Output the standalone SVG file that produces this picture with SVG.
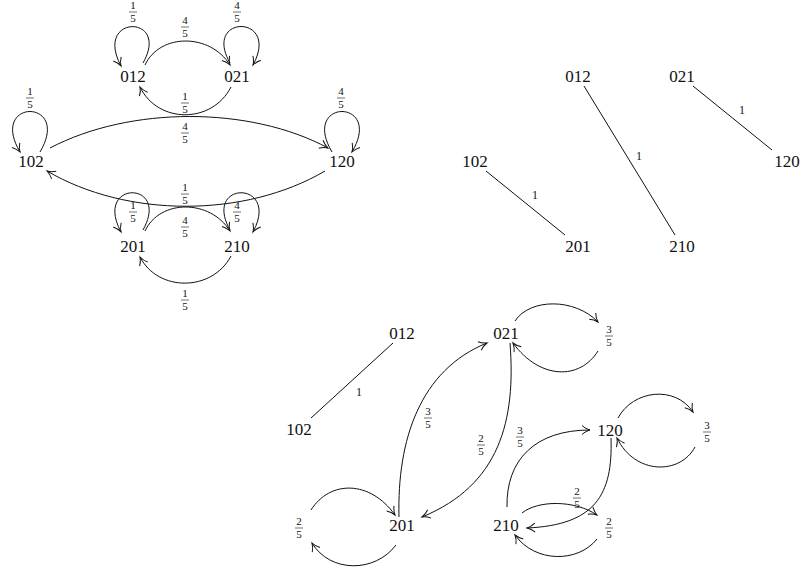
<svg xmlns="http://www.w3.org/2000/svg" width="800" height="569" viewBox="0 0 800 569">
<style>
.n{font-family:"Liberation Serif","DejaVu Serif",serif;font-size:17px;fill:#111;text-anchor:middle}
.f text{font-family:"Liberation Serif","DejaVu Serif",serif;font-size:11px;fill:#111;text-anchor:middle}
.f line{stroke:#111;stroke-width:0.6}
.l{font-family:"Liberation Serif","DejaVu Serif",serif;font-size:12px;fill:#111;text-anchor:middle}
.e{fill:none;stroke:#111;stroke-width:1}
.a{marker-end:url(#arr)}
</style>
<defs>
<marker id="arr" markerUnits="userSpaceOnUse" viewBox="-9 -6 11 12" refX="0" refY="0" markerWidth="11" markerHeight="12" orient="auto">
<path d="M-8,-4.5 C-5.5,-2.2 -2.5,-0.7 0,0 C-2.5,0.7 -5.5,2.2 -8,4.5" fill="none" stroke="#111" stroke-width="1"/>
</marker>
</defs>

<!-- Graph 1 nodes -->
<g id="g1-012"><text class="n" x="133" y="82">012</text></g>
<g id="g1-021"><text class="n" x="237" y="82">021</text></g>
<g id="g1-102"><text class="n" x="31" y="167">102</text></g>
<g id="g1-120"><text class="n" x="342" y="167">120</text></g>
<g id="g1-201"><text class="n" x="133" y="252">201</text></g>
<g id="g1-210"><text class="n" x="237" y="252">210</text></g>

<!-- Graph 2 nodes -->
<g id="g2-012"><text class="n" x="578" y="82">012</text></g>
<g id="g2-021"><text class="n" x="682" y="82">021</text></g>
<g id="g2-102"><text class="n" x="475" y="167">102</text></g>
<g id="g2-120"><text class="n" x="787" y="167">120</text></g>
<g id="g2-201"><text class="n" x="578" y="252">201</text></g>
<g id="g2-210"><text class="n" x="682" y="252">210</text></g>

<!-- Graph 3 nodes -->
<g id="g3-012"><text class="n" x="402" y="339">012</text></g>
<g id="g3-021"><text class="n" x="506" y="339">021</text></g>
<g id="g3-102"><text class="n" x="299" y="435">102</text></g>
<g id="g3-120"><text class="n" x="610" y="436">120</text></g>
<g id="g3-201"><text class="n" x="402" y="531">201</text></g>
<g id="g3-210"><text class="n" x="506" y="531">210</text></g>
<g id="g3-35a" class="f" transform="translate(609,336)"><text y="-2.6">3</text><line x1="-4" x2="4"/><text y="10.2">5</text></g>
<g id="g3-35b" class="f" transform="translate(707,432)"><text y="-2.6">3</text><line x1="-4" x2="4"/><text y="10.2">5</text></g>
<g id="g3-25a" class="f" transform="translate(299,528)"><text y="-2.6">2</text><line x1="-4" x2="4"/><text y="10.2">5</text></g>
<g id="g3-25b" class="f" transform="translate(609,528)"><text y="-2.6">2</text><line x1="-4" x2="4"/><text y="10.2">5</text></g>

<g id="connectors">
<!-- graph 1 -->
<path class="e a" d="M143,63 C171,14 93,14 121,66"/>
<path class="e a" d="M230,63 C202,14 281,14 253,65"/>
<path class="e a" d="M145,65 C160,33 210,33 230,65"/>
<path class="e a" d="M231,87 C212,124 158,124 140,87"/>
<path class="e a" d="M40,152 C72,98 -12,98 20,152"/>
<path class="e a" d="M332,152 C300,98 384,98 352,152"/>
<path class="e a" d="M50,148 C130,106 250,106 328,148"/>
<path class="e a" d="M325,171 C245,218 127,218 47,171"/>
<path class="e a" d="M143,230 C171,180 93,180 121,232"/>
<path class="e a" d="M230,230 C202,180 281,180 253,232"/>
<path class="e a" d="M145,231 C160,199 210,199 230,231"/>
<path class="e a" d="M231,256 C212,292 158,292 140,257"/>
<!-- graph 2 -->
<path class="e" d="M584,86 L675,235"/>
<path class="e" d="M693,86 L772,150"/>
<path class="e" d="M486,171 L565,235"/>
<!-- graph 3 -->
<path class="e" d="M311,418 L393,343"/>
<path class="e a" d="M399,517 C397,440 420,370 487,343"/>
<path class="e a" d="M510,343 C516,420 500,485 422,517"/>
<path class="e a" d="M311,510 C330,480 370,480 395,515"/>
<path class="e a" d="M396,545 C375,573 330,573 312,543"/>
<path class="e a" d="M515,321 C530,298 575,298 598,322"/>
<path class="e a" d="M598,351 C580,380 540,380 513,343"/>
<path class="e a" d="M507,507 C506,460 535,430 590,430"/>
<path class="e a" d="M611,438 C613,495 595,525 527,528"/>
<path class="e a" d="M522,513 C538,500 575,500 597,515"/>
<path class="e a" d="M597,539 C578,563 535,563 515,535"/>
<path class="e a" d="M618,418 C633,390 675,385 693,412"/>
<path class="e a" d="M695,447 C680,475 635,475 617,438"/>
</g>

<g id="labels">
<g class="f" transform="translate(133,12)"><text y="-2.6">1</text><line x1="-4" x2="4"/><text y="10.2">5</text></g>
<g class="f" transform="translate(237,12)"><text y="-2.6">4</text><line x1="-4" x2="4"/><text y="10.2">5</text></g>
<g class="f" transform="translate(185,27)"><text y="-2.6">4</text><line x1="-4" x2="4"/><text y="10.2">5</text></g>
<g class="f" transform="translate(185,103)"><text y="-2.6">1</text><line x1="-4" x2="4"/><text y="10.2">5</text></g>
<g class="f" transform="translate(30,98)"><text y="-2.6">1</text><line x1="-4" x2="4"/><text y="10.2">5</text></g>
<g class="f" transform="translate(341,98)"><text y="-2.6">4</text><line x1="-4" x2="4"/><text y="10.2">5</text></g>
<g class="f" transform="translate(185,133)"><text y="-2.6">4</text><line x1="-4" x2="4"/><text y="10.2">5</text></g>
<g class="f" transform="translate(185,194)"><text y="-2.6">1</text><line x1="-4" x2="4"/><text y="10.2">5</text></g>
<g class="f" transform="translate(133,212)"><text y="-2.6">1</text><line x1="-4" x2="4"/><text y="10.2">5</text></g>
<g class="f" transform="translate(237,212)"><text y="-2.6">4</text><line x1="-4" x2="4"/><text y="10.2">5</text></g>
<g class="f" transform="translate(185,227)"><text y="-2.6">4</text><line x1="-4" x2="4"/><text y="10.2">5</text></g>
<g class="f" transform="translate(185,300)"><text y="-2.6">1</text><line x1="-4" x2="4"/><text y="10.2">5</text></g>
<text class="l" x="639" y="160">1</text>
<text class="l" x="742" y="114">1</text>
<text class="l" x="535" y="199">1</text>
<text class="l" x="359" y="396">1</text>
<g class="f" transform="translate(428,418)"><text y="-2.6">3</text><line x1="-4" x2="4"/><text y="10.2">5</text></g>
<g class="f" transform="translate(481,445)"><text y="-2.6">2</text><line x1="-4" x2="4"/><text y="10.2">5</text></g>
<g class="f" transform="translate(520,437)"><text y="-2.6">3</text><line x1="-4" x2="4"/><text y="10.2">5</text></g>
<g class="f" transform="translate(577,498)"><text y="-2.6">2</text><line x1="-4" x2="4"/><text y="10.2">5</text></g>
</g>
</svg>
